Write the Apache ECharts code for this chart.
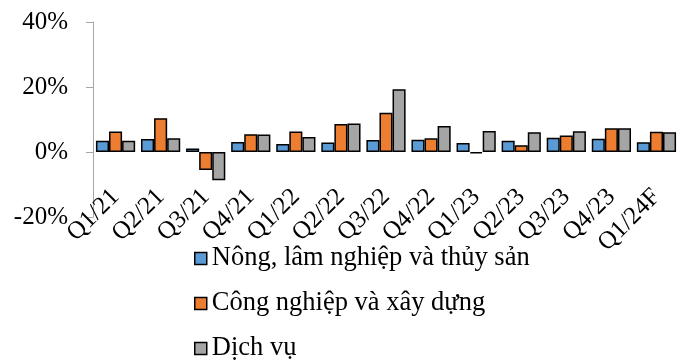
<!DOCTYPE html>
<html>
<head>
<meta charset="utf-8">
<script src="https://cdn.jsdelivr.net/npm/echarts@6/dist/echarts.min.js"></script>
<style>html,body{margin:0;padding:0;background:#fff}#c{width:690px;height:360px}</style>
</head>
<body>
<div id="c"></div>
<script>
const categories = ['Q1/21','Q2/21','Q3/21','Q4/21','Q1/22','Q2/22','Q3/22','Q4/22','Q1/23','Q2/23','Q3/23','Q4/23','Q1/24F'];
const agriculture = [3.5, 4.0, 1.1, 3.1, 2.5, 2.9, 3.7, 3.8, 2.8, 3.5, 4.4, 4.1, 3.0];
const industry = [6.3, 10.4, -5.5, 5.5, 6.3, 8.6, 12.1, 4.2, -0.4, 2.1, 5.1, 7.3, 6.2];
const services = [3.5, 4.2, -8.7, 5.4, 4.6, 8.8, 19.3, 8.0, 6.5, 6.1, 6.4, 7.3, 6.1];
const seriesNames = ['Nông, lâm nghiệp và thủy sản', 'Công nghiệp và xây dựng', 'Dịch vụ'];
const yTicks = [-20, 0, 20, 40];

const font = 'Liberation Serif';
const colors = ['#5B9BD5', '#ED7D31', '#A5A5A5'];
const chart = echarts.init(document.getElementById('c'));
const mk = (name, data, i) => ({
  name, type: 'bar', data,
  barGap: '0%', barCategoryGap: '13%',
  itemStyle: { color: colors[i], borderColor: '#000', borderWidth: 1.5 },
  animation: false
});
chart.setOption({
  animation: false,
  textStyle: { fontFamily: font },
  grid: { left: 93, right: 11, top: 22, bottom: 143, containLabel: false },
  legend: {
    orient: 'vertical', left: 189, top: 240, height: 140, width: 420,
    itemWidth: 12, itemHeight: 12, itemGap: 18,
    textStyle: { fontFamily: font, fontSize: 26.5, lineHeight: 26, color: '#000' },
    icon: 'rect',
    itemStyle: { borderColor: '#000', borderWidth: 1.5 },
    data: seriesNames
  },
  xAxis: {
    type: 'category', data: categories,
    axisLine: { show: false, onZero: false },
    axisTick: { show: false },
    axisLabel: { rotate: 45, margin: -24, fontFamily: font, fontSize: 25, color: '#000', interval: 0 }
  },
  yAxis: {
    type: 'value', min: yTicks[0], max: yTicks[yTicks.length-1], interval: 20,
    axisLine: { show: true, lineStyle: { color: '#a6a6a6', width: 1 } },
    axisTick: { show: true, length: 7, lineStyle: { color: '#a6a6a6' } },
    splitLine: { show: false },
    axisLabel: { formatter: v => v + '%', margin: 25, fontFamily: font, fontSize: 25, color: '#000' }
  },
  series: [mk(seriesNames[0], agriculture, 0), mk(seriesNames[1], industry, 1), mk(seriesNames[2], services, 2)]
});
</script>
</body>
</html>
